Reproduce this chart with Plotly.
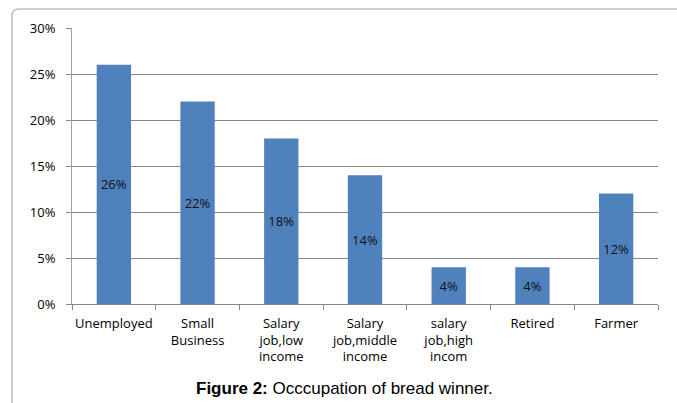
import plotly.graph_objects as go

# occupation categories and share of respondents
categories = ["Unemployed", "Small<br>Business", "Salary<br>job,low<br>income",
              "Salary<br>job,middle<br>income", "salary<br>job,high<br>incom",
              "Retired", "Farmer"]
shares = [0.26, 0.22, 0.18, 0.14, 0.04, 0.04, 0.12]
y_ticks = [0, 0.05, 0.10, 0.15, 0.20, 0.25, 0.30]
caption = "<b>Figure 2:</b> Occcupation of bread winner."

W, H = 677, 403
L, R, T, B = 72, 19, 28, 99
pw, ph = W - L - R, H - T - B


def px_x(x):
    return (x - L) / pw


def px_y(y):
    return (H - B - y) / ph


fig = go.Figure(go.Bar(
    x=categories,
    y=shares,
    marker=dict(color="#4F81BD", line=dict(width=0)),
    width=0.41,
    texttemplate="%{y:.0%}",
    textposition="inside",
    insidetextanchor="middle",
    textangle=0,
    constraintext="none",
    textfont=dict(family="Open Sans", size=13, color="#111111"),
))

# outer chart frame (rounded top-left corner, clipped at right/bottom)
x0, y0, x1, y1 = px_x(12), px_y(9), px_x(W + 5), px_y(H + 5)
rx, ry = 7 / pw, 7 / ph
frame = (f"M {x0},{y1} L {x0},{y0 - ry} Q {x0},{y0} {x0 + rx},{y0} "
         f"L {x1},{y0}")
fig.add_shape(type="path", path=frame, xref="paper", yref="paper",
              line=dict(color="#BFBFBF", width=1.5), layer="below")

fig.add_annotation(text=caption, xref="paper", yref="paper",
                   x=px_x(344), y=px_y(388), showarrow=False,
                   xanchor="center", yanchor="middle",
                   font=dict(family="Liberation Sans", size=17, color="black"))

fig.update_layout(
    width=W, height=H,
    margin=dict(l=L, r=R, t=T, b=B, pad=0),
    paper_bgcolor="white", plot_bgcolor="white",
    showlegend=False,
    font=dict(family="Open Sans", size=13, color="black"),
)
fig.update_xaxes(
    showline=True, linecolor="#878787", linewidth=1,
    ticks="outside", ticklen=5, tickcolor="#878787", tickson="boundaries",
    ticklabelstandoff=7, tickfont=dict(size=13), tickangle=0,
    showgrid=False,
)
fig.update_yaxes(
    range=[0, 0.30], tickvals=y_ticks, tickformat=".0%",
    showline=True, linecolor="#A0A0A0", linewidth=1,
    ticks="outside", ticklen=5, tickcolor="#878787",
    ticklabelstandoff=8, tickfont=dict(size=13),
    showgrid=True, gridcolor="#878787", gridwidth=1, zeroline=False,
)

fig.write_html("out.html", config={"displayModeBar": False},
               post_script="document.body.style.margin='0';")
